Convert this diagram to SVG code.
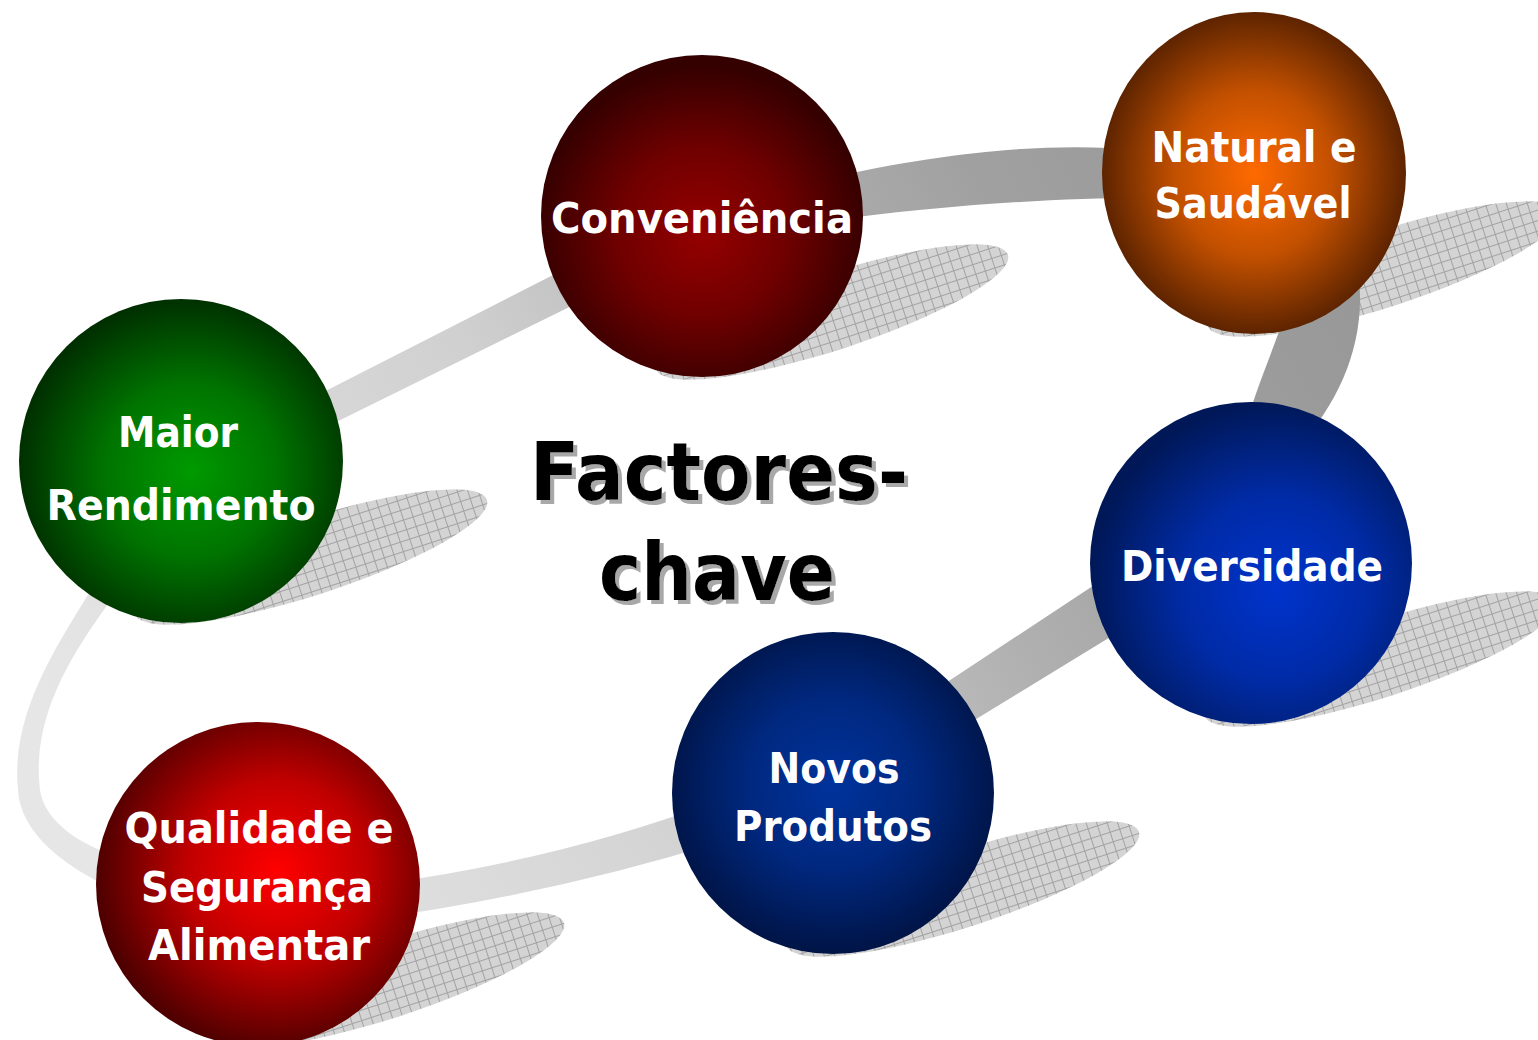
<svg xmlns="http://www.w3.org/2000/svg" width="1538" height="1040" viewBox="0 0 1538 1040">
<style>
.lbl{font-family:"DejaVu Sans","Liberation Sans",sans-serif;font-weight:bold;font-size:43px;fill:#ffffff;text-anchor:middle}
.ttl{font-family:"DejaVu Sans","Liberation Sans",sans-serif;font-weight:bold;font-size:80px;fill:#000000;text-anchor:middle}
.shadow{fill:url(#hatch)}
</style>
<defs>
<pattern id="hatch" patternUnits="userSpaceOnUse" width="10" height="10">
<rect width="10" height="10" fill="#d4d4d4"/>
<path d="M0,0.5H10M0.5,0V10" stroke="#a2a2a2" stroke-width="1" fill="none"/>
</pattern>
<linearGradient id="band" gradientUnits="userSpaceOnUse" x1="1350" y1="300" x2="220" y2="988">
<stop offset="0" stop-color="#989898"/>
<stop offset="0.19" stop-color="#a0a0a0"/>
<stop offset="0.35" stop-color="#b0b0b0"/>
<stop offset="0.59" stop-color="#d0d0d0"/>
<stop offset="0.75" stop-color="#d9d9d9"/>
<stop offset="1" stop-color="#e6e6e6"/>
</linearGradient>
<radialGradient id="gConv" cx="0.5" cy="0.55" r="0.52">
<stop offset="0" stop-color="#960000"/>
<stop offset="0.5" stop-color="#700000"/>
<stop offset="1" stop-color="#340000"/>
</radialGradient>
<radialGradient id="gNat" cx="0.5" cy="0.5" r="0.52">
<stop offset="0" stop-color="#ff6a00"/>
<stop offset="0.5" stop-color="#c25000"/>
<stop offset="1" stop-color="#552000"/>
</radialGradient>
<radialGradient id="gMaior" cx="0.53" cy="0.53" r="0.53">
<stop offset="0" stop-color="#009a00"/>
<stop offset="0.5" stop-color="#007400"/>
<stop offset="1" stop-color="#003000"/>
</radialGradient>
<radialGradient id="gDiv" cx="0.58" cy="0.58" r="0.58">
<stop offset="0" stop-color="#0033cc"/>
<stop offset="0.5" stop-color="#002ba6"/>
<stop offset="1" stop-color="#001858"/>
</radialGradient>
<radialGradient id="gNovos" cx="0.5" cy="0.47" r="0.53">
<stop offset="0" stop-color="#00339c"/>
<stop offset="0.5" stop-color="#00287f"/>
<stop offset="1" stop-color="#001446"/>
</radialGradient>
<radialGradient id="gQual" cx="0.56" cy="0.46" r="0.56">
<stop offset="0" stop-color="#ff0000"/>
<stop offset="0.5" stop-color="#c00000"/>
<stop offset="1" stop-color="#4e0000"/>
</radialGradient>
<filter id="tshadow" x="-10%" y="-10%" width="120%" height="130%">
<feOffset in="SourceAlpha" dx="4" dy="4" result="off"/>
<feFlood flood-color="#a8a8a8"/>
<feComposite in2="off" operator="in" result="sh"/>
<feMerge><feMergeNode in="sh"/><feMergeNode in="SourceGraphic"/></feMerge>
</filter>
</defs>
<rect width="1538" height="1040" fill="#ffffff"/>

<g id="shadows">
<ellipse class="shadow" cx="832" cy="312" rx="185" ry="38" transform="rotate(-18 832 312)"/>
<ellipse class="shadow" cx="1384" cy="269" rx="185" ry="38" transform="rotate(-18 1384 269)"/>
<ellipse class="shadow" cx="311" cy="557" rx="185" ry="38" transform="rotate(-18 311 557)"/>
<ellipse class="shadow" cx="1381" cy="659" rx="185" ry="38" transform="rotate(-18 1381 659)"/>
<ellipse class="shadow" cx="963" cy="889" rx="185" ry="38" transform="rotate(-18 963 889)"/>
<ellipse class="shadow" cx="388" cy="980" rx="185" ry="38" transform="rotate(-18 388 980)"/>
</g>

<g id="connectors">
<path fill="url(#band)" fill-rule="evenodd" d="M110,560 C60,640 10,710 18,790 C20,830 60,870 140,900 L380,918 Q560,892 720,842 L950,735 Q1040,680 1130,625 L1300,445 C1340,400 1368,340 1358,270 L1140,150 C1060,143 960,148 820,180 L600,251 L300,404 Z M130,575 C80,640 30,710 40,790 C44,820 80,850 140,862 L380,884 Q560,860 720,800 L920,700 L1120,568 L1245,430 C1255,390 1270,360 1290,300 L1140,198 C1060,198 940,205 820,222 L610,287 L310,435 Z"/>
</g>

<g id="node-conveniencia">
<circle cx="702" cy="216" r="161" fill="url(#gConv)"/>
<text class="lbl" x="702" y="233" textLength="302" lengthAdjust="spacingAndGlyphs">Conveniência</text>
</g>
<g id="node-natural">
<ellipse cx="1254" cy="173" rx="152" ry="161" fill="url(#gNat)"/>
<text class="lbl" x="1254" y="162" textLength="205" lengthAdjust="spacingAndGlyphs">Natural e</text>
<text class="lbl" x="1253" y="218" textLength="197" lengthAdjust="spacingAndGlyphs">Saudável</text>
</g>
<g id="node-maior">
<circle cx="181" cy="461" r="162" fill="url(#gMaior)"/>
<text class="lbl" x="178" y="447" textLength="120" lengthAdjust="spacingAndGlyphs">Maior</text>
<text class="lbl" x="181" y="520" textLength="269" lengthAdjust="spacingAndGlyphs">Rendimento</text>
</g>
<g id="node-diversidade">
<circle cx="1251" cy="563" r="161" fill="url(#gDiv)"/>
<text class="lbl" x="1252" y="581" textLength="262" lengthAdjust="spacingAndGlyphs">Diversidade</text>
</g>
<g id="node-novos">
<circle cx="833" cy="793" r="161" fill="url(#gNovos)"/>
<text class="lbl" x="834" y="783" textLength="131" lengthAdjust="spacingAndGlyphs">Novos</text>
<text class="lbl" x="833" y="841" textLength="198" lengthAdjust="spacingAndGlyphs">Produtos</text>
</g>
<g id="node-qualidade">
<circle cx="258" cy="884" r="162" fill="url(#gQual)"/>
<text class="lbl" x="259" y="843" textLength="269" lengthAdjust="spacingAndGlyphs">Qualidade e</text>
<text class="lbl" x="257" y="902" textLength="232" lengthAdjust="spacingAndGlyphs">Segurança</text>
<text class="lbl" x="259" y="960" textLength="222" lengthAdjust="spacingAndGlyphs">Alimentar</text>
</g>

<g id="title" filter="url(#tshadow)">
<text class="ttl" x="719" y="500" textLength="378" lengthAdjust="spacingAndGlyphs">Factores-</text>
<text class="ttl" x="717" y="600" textLength="236" lengthAdjust="spacingAndGlyphs">chave</text>
</g>
</svg>
